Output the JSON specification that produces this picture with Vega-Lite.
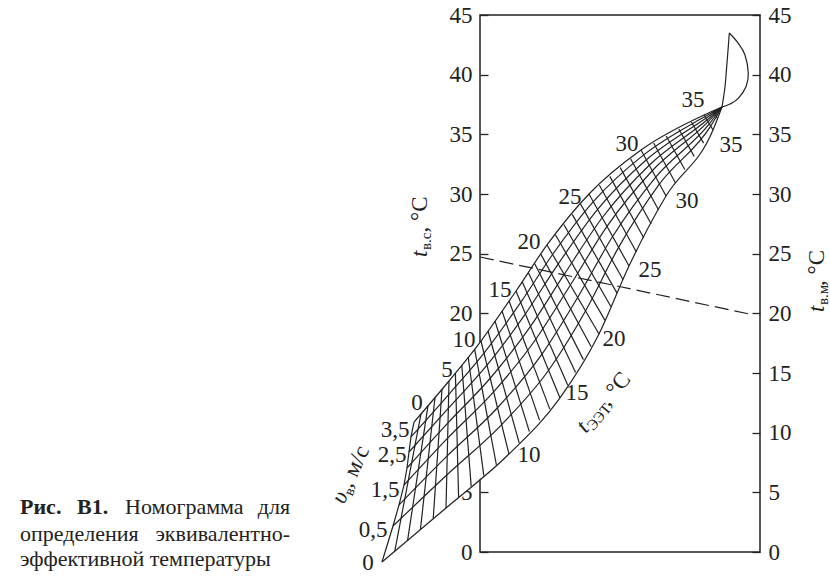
{
"$schema": "https://vega.github.io/schema/vega-lite/v6.json",
"width": 280, "height": 537,
"autosize": {"type": "none"},
"padding": {"left": 480, "top": 15, "right": 70, "bottom": 24},
"background": "white",
"config": {"view": {"stroke": "#222", "strokeWidth": 1.5}, "font": "Liberation Serif"},
"datasets": {
"band": [
{"o":1,"x":-66,"y":10.89},{"o":2,"x":-31,"y":14.33},{"o":3,"x":1,"y":17.68},{"o":4,"x":36,"y":21.87},{"o":5,"x":67,"y":25.73},{"o":6,"x":109,"y":30.0},{"o":7,"x":161,"y":33.69},{"o":8,"x":224,"y":36.62},{"o":9,"x":242,"y":37.29},
{"o":10,"x":233,"y":35.36},{"o":11,"x":186,"y":29.83},{"o":12,"x":149,"y":23.97},{"o":13,"x":119,"y":18.27},{"o":14,"x":80,"y":12.91},{"o":15,"x":29,"y":8.21},{"o":16,"x":-34,"y":3.69},{"o":17,"x":-98,"y":-0.84},
{"o":18,"x":-87,"y":2.18},{"o":19,"x":-81,"y":3.94},{"o":20,"x":-76,"y":5.61},{"o":21,"x":-73,"y":7.04},{"o":22,"x":-71,"y":8.38},{"o":23,"x":-69,"y":9.64}
],
"et": [
{"t":0,"o":0,"x":-66,"y":10.89},{"t":0,"o":1,"x":-69,"y":9.64},{"t":0,"o":2,"x":-71,"y":8.38},{"t":0,"o":3,"x":-73,"y":7.04},{"t":0,"o":4,"x":-76,"y":5.61},{"t":0,"o":5,"x":-81,"y":3.94},{"t":0,"o":6,"x":-87,"y":2.18},{"t":0,"o":7,"x":-98,"y":-0.84},
{"t":1,"o":0,"x":-59,"y":11.58},{"t":1,"o":1,"x":-85.2,"y":0.07},
{"t":2,"o":0,"x":-52,"y":12.27},{"t":2,"o":1,"x":-72.4,"y":0.97},
{"t":3,"o":0,"x":-45,"y":12.96},{"t":3,"o":1,"x":-59.6,"y":1.88},
{"t":4,"o":0,"x":-38,"y":13.64},{"t":4,"o":1,"x":-46.8,"y":2.78},
{"t":5,"o":0,"x":-31,"y":14.33},{"t":5,"o":1,"x":-34,"y":3.69},
{"t":6,"o":0,"x":-24.6,"y":15.0},{"t":6,"o":1,"x":-21.4,"y":4.59},
{"t":7,"o":0,"x":-18.2,"y":15.67},{"t":7,"o":1,"x":-8.8,"y":5.5},
{"t":8,"o":0,"x":-11.8,"y":16.34},{"t":8,"o":1,"x":3.8,"y":6.4},
{"t":9,"o":0,"x":-5.4,"y":17.01},{"t":9,"o":1,"x":16.4,"y":7.31},
{"t":10,"o":0,"x":1,"y":17.68},{"t":10,"o":1,"x":29,"y":8.21},
{"t":11,"o":0,"x":8,"y":18.52},{"t":11,"o":1,"x":39.2,"y":9.15},
{"t":12,"o":0,"x":15,"y":19.36},{"t":12,"o":1,"x":49.4,"y":10.09},
{"t":13,"o":0,"x":22,"y":20.2},{"t":13,"o":1,"x":59.6,"y":11.03},
{"t":14,"o":0,"x":29,"y":21.03},{"t":14,"o":1,"x":69.8,"y":11.97},
{"t":15,"o":0,"x":36,"y":21.87},{"t":15,"o":1,"x":80,"y":12.91},
{"t":16,"o":0,"x":42.2,"y":22.64},{"t":16,"o":1,"x":87.8,"y":13.98},
{"t":17,"o":0,"x":48.4,"y":23.41},{"t":17,"o":1,"x":95.6,"y":15.05},
{"t":18,"o":0,"x":54.6,"y":24.18},{"t":18,"o":1,"x":103.4,"y":16.12},
{"t":19,"o":0,"x":60.8,"y":24.96},{"t":19,"o":1,"x":111.2,"y":17.2},
{"t":20,"o":0,"x":67,"y":25.73},{"t":20,"o":1,"x":119,"y":18.27},
{"t":21,"o":0,"x":75.4,"y":26.58},{"t":21,"o":1,"x":125,"y":19.41},
{"t":22,"o":0,"x":83.8,"y":27.44},{"t":22,"o":1,"x":131,"y":20.55},
{"t":23,"o":0,"x":92.2,"y":28.29},{"t":23,"o":1,"x":137,"y":21.69},
{"t":24,"o":0,"x":100.6,"y":29.15},{"t":24,"o":1,"x":143,"y":22.83},
{"t":25,"o":0,"x":109,"y":30.0},{"t":25,"o":1,"x":149,"y":23.97},
{"t":26,"o":0,"x":119.4,"y":30.74},{"t":26,"o":1,"x":156.4,"y":25.14},
{"t":27,"o":0,"x":129.8,"y":31.48},{"t":27,"o":1,"x":163.8,"y":26.31},
{"t":28,"o":0,"x":140.2,"y":32.21},{"t":28,"o":1,"x":171.2,"y":27.49},
{"t":29,"o":0,"x":150.6,"y":32.95},{"t":29,"o":1,"x":178.6,"y":28.66},
{"t":30,"o":0,"x":161,"y":33.69},{"t":30,"o":1,"x":186,"y":29.83},
{"t":31,"o":0,"x":173.6,"y":34.27},{"t":31,"o":1,"x":195.4,"y":30.94},
{"t":32,"o":0,"x":186.2,"y":34.86},{"t":32,"o":1,"x":204.8,"y":32.05},
{"t":33,"o":0,"x":198.8,"y":35.45},{"t":33,"o":1,"x":214.2,"y":33.15},
{"t":34,"o":0,"x":211.4,"y":36.03},{"t":34,"o":1,"x":223.6,"y":34.26},
{"t":35,"o":0,"x":224,"y":36.62},{"t":35,"o":1,"x":233,"y":35.36},
{"t":36,"o":0,"x":233,"y":36.96},{"t":36,"o":1,"x":237.5,"y":36.33}
],
"vel": [
{"v":3.5,"x":-66,"y":10.89},{"v":3.5,"x":-31,"y":14.33},{"v":3.5,"x":1,"y":17.68},{"v":3.5,"x":36,"y":21.87},{"v":3.5,"x":67,"y":25.73},{"v":3.5,"x":109,"y":30.0},{"v":3.5,"x":161,"y":33.69},{"v":3.5,"x":224,"y":36.62},{"v":3.5,"x":242,"y":37.29},
{"v":3.0,"x":-69,"y":9.64},{"v":3.0,"x":-31.3,"y":13.19},{"v":3.0,"x":4.0,"y":16.67},{"v":3.0,"x":40.7,"y":20.92},{"v":3.0,"x":72.6,"y":24.93},{"v":3.0,"x":113.3,"y":29.36},{"v":3.0,"x":163.7,"y":33.28},{"v":3.0,"x":225,"y":36.49},{"v":3.0,"x":242,"y":37.29},
{"v":2.5,"x":-71,"y":8.38},{"v":2.5,"x":-31.6,"y":12.05},{"v":2.5,"x":7.0,"y":15.65},{"v":2.5,"x":45.4,"y":19.95},{"v":2.5,"x":78.1,"y":24.13},{"v":2.5,"x":117.6,"y":28.71},{"v":2.5,"x":166.4,"y":32.87},{"v":2.5,"x":225.9,"y":36.35},{"v":2.5,"x":242,"y":37.29},
{"v":2.0,"x":-73,"y":7.04},{"v":2.0,"x":-32.0,"y":10.82},{"v":2.0,"x":10.2,"y":14.56},{"v":2.0,"x":50.5,"y":18.91},{"v":2.0,"x":84.2,"y":23.26},{"v":2.0,"x":122.2,"y":28.01},{"v":2.0,"x":169.25,"y":32.41},{"v":2.0,"x":227,"y":36.2},{"v":2.0,"x":242,"y":37.29},
{"v":1.5,"x":-76,"y":5.61},{"v":1.5,"x":-32.35,"y":9.54},{"v":1.5,"x":13.6,"y":13.42},{"v":1.5,"x":55.8,"y":17.83},{"v":1.5,"x":90.4,"y":22.37},{"v":1.5,"x":127.0,"y":27.29},{"v":1.5,"x":172.25,"y":31.95},{"v":1.5,"x":228,"y":36.05},{"v":1.5,"x":242,"y":37.29},
{"v":1.0,"x":-81,"y":3.94},{"v":1.0,"x":-32.8,"y":8.05},{"v":1.0,"x":17.5,"y":12.09},{"v":1.0,"x":62.0,"y":16.58},{"v":1.0,"x":97.7,"y":21.33},{"v":1.0,"x":132.6,"y":26.44},{"v":1.0,"x":175.75,"y":31.42},{"v":1.0,"x":229.3,"y":35.87},{"v":1.0,"x":242,"y":37.29},
{"v":0.5,"x":-87,"y":2.18},{"v":0.5,"x":-33.2,"y":6.45},{"v":0.5,"x":21.7,"y":10.68},{"v":0.5,"x":68.6,"y":15.23},{"v":0.5,"x":105.5,"y":20.2},{"v":0.5,"x":138.6,"y":25.53},{"v":0.5,"x":179.5,"y":30.84},{"v":0.5,"x":230.7,"y":35.69},{"v":0.5,"x":242,"y":37.29},
{"v":0,"x":-98,"y":-0.84},{"v":0,"x":-34,"y":3.69},{"v":0,"x":29,"y":8.21},{"v":0,"x":80,"y":12.91},{"v":0,"x":119,"y":18.27},{"v":0,"x":149,"y":23.97},{"v":0,"x":186,"y":29.83},{"v":0,"x":233,"y":35.36},{"v":0,"x":242,"y":37.29}
],
"loop": [
{"s":"up","o":1,"x":242,"y":37.29},{"s":"up","o":2,"x":245,"y":38.99},{"s":"up","o":3,"x":246.7,"y":40.67},{"s":"up","o":4,"x":248.3,"y":42.35},{"s":"up","o":5,"x":249.3,"y":43.49},
{"s":"arc","o":1,"x":249.3,"y":43.49},{"s":"arc","o":2,"x":258.3,"y":42.63},{"s":"arc","o":3,"x":265,"y":41.65},{"s":"arc","o":4,"x":268.3,"y":40.12},{"s":"arc","o":5,"x":266,"y":38.99},{"s":"arc","o":6,"x":258.3,"y":38.02},{"s":"arc","o":7,"x":250,"y":37.54},{"s":"arc","o":8,"x":242,"y":37.29}
],
"dash": [{"x":0,"y":24.72},{"x":274,"y":19.86}],
"nums": [
{"s":"0","x":-63,"y":12.49},{"s":"5","x":-33,"y":15.25},{"s":"10","x":-16,"y":17.77},{"s":"15","x":20,"y":21.96},{"s":"20","x":49,"y":25.98},{"s":"25","x":90,"y":29.75},{"s":"30","x":147,"y":34.19},{"s":"35","x":213,"y":37.88},
{"s":"10","x":49,"y":8.13},{"s":"15","x":97,"y":13.32},{"s":"20","x":134,"y":17.85},{"s":"25","x":170,"y":23.63},{"s":"30","x":207,"y":29.41},{"s":"35","x":251,"y":34.11},
{"s":"3,5","x":-85,"y":10.22},{"s":"2,5","x":-88,"y":8.13},{"s":"1,5","x":-95,"y":5.2},{"s":"0,5","x":-107,"y":1.84},{"s":"0","x":-112,"y":-0.9}
],
"txt": [
{"k":"bold","s":"Рис.","x":-460,"y":3.18,"a":0},
{"k":"bold","s":"В1.","x":-403,"y":3.18,"a":0},
{"k":"reg","s":"Номограмма","x":-355,"y":3.18,"a":0},
{"k":"regR","s":"для","x":-190,"y":3.18,"a":0},
{"k":"reg","s":"определения","x":-460,"y":0.96,"a":0},
{"k":"regR","s":"эквивалентно-","x":-190,"y":0.96,"a":0},
{"k":"reg","s":"эффективной температуры","x":-460,"y":-1.17,"a":0},
{"k":"ital","s":"t","x":-53,"y":24.72,"a":270},
{"k":"sub","s":"в.с","x":-49,"y":25.31,"a":270},
{"k":"reg2","s":", °С","x":-53,"y":26.77,"a":270},
{"k":"ital","s":"t","x":344,"y":20.11,"a":270},
{"k":"sub","s":"в.м","x":348,"y":20.7,"a":270},
{"k":"reg2","s":", °С","x":344,"y":22.29,"a":270},
{"k":"ital","s":"t","x":106,"y":9.89,"a":310},
{"k":"sub","s":"ЭЭТ","x":113.5,"y":10.12,"a":310},
{"k":"reg2","s":", °С","x":128.5,"y":12.13,"a":310},
{"k":"ital","s":"υ","x":-136,"y":3.94,"a":295},
{"k":"sub","s":"в","x":-127.7,"y":4.63,"a":295},
{"k":"reg2","s":", м/с","x":-128.4,"y":5.3,"a":295}
]
},
"resolve": {"axis": {"y": "independent"}},
"layer": [
{
"data": {"name": "band"},
"mark": {"type": "line", "fill": "white", "strokeWidth": 0},
"encoding": {
"x": {"field": "x", "type": "quantitative", "scale": {"domain": [0, 280], "nice": false, "zero": false}, "axis": null},
"y": {"field": "y", "type": "quantitative", "scale": {"domain": [0, 45], "nice": false, "zero": false},
"axis": {"orient": "left", "values": [0, 5, 20, 25, 30, 35, 40, 45], "domain": false, "grid": false, "tickSize": -8, "tickColor": "#222", "tickWidth": 1.3, "labelFont": "Liberation Serif", "labelFontSize": 23, "labelColor": "#222", "labelPadding": 16, "title": null}},
"order": {"field": "o", "type": "quantitative"}
}
},
{
"data": {"name": "et"},
"mark": {"type": "line", "stroke": "#222", "strokeWidth": 1.2},
"encoding": {
"x": {"field": "x", "type": "quantitative", "scale": {"domain": [0, 280], "nice": false, "zero": false}, "axis": null},
"y": {"field": "y", "type": "quantitative", "scale": {"domain": [0, 45], "nice": false, "zero": false},
"axis": {"orient": "right", "values": [0, 5, 10, 15, 20, 25, 30, 35, 40, 45], "domain": false, "grid": false, "tickSize": -8, "tickColor": "#222", "tickWidth": 1.3, "labelFont": "Liberation Serif", "labelFontSize": 23, "labelColor": "#222", "labelPadding": 16, "title": null}},
"detail": {"field": "t", "type": "nominal"},
"order": {"field": "o", "type": "quantitative"}
}
},
{
"data": {"name": "vel"},
"mark": {"type": "line", "stroke": "#222", "strokeWidth": 1.2, "interpolate": "monotone"},
"encoding": {
"x": {"field": "x", "type": "quantitative", "scale": {"domain": [0, 280], "nice": false, "zero": false}, "axis": null},
"y": {"field": "y", "type": "quantitative", "scale": {"domain": [0, 45], "nice": false, "zero": false}, "axis": null},
"detail": {"field": "v", "type": "nominal"}
}
},
{
"data": {"name": "loop"},
"mark": {"type": "line", "stroke": "#222", "strokeWidth": 1.2, "interpolate": "cardinal"},
"encoding": {
"x": {"field": "x", "type": "quantitative", "scale": {"domain": [0, 280], "nice": false, "zero": false}, "axis": null},
"y": {"field": "y", "type": "quantitative", "scale": {"domain": [0, 45], "nice": false, "zero": false}, "axis": null},
"detail": {"field": "s", "type": "nominal"},
"order": {"field": "o", "type": "quantitative"}
}
},
{
"data": {"name": "dash"},
"mark": {"type": "line", "stroke": "#222", "strokeWidth": 1.2, "strokeDash": [14, 6]},
"encoding": {
"x": {"field": "x", "type": "quantitative", "scale": {"domain": [0, 280], "nice": false, "zero": false}, "axis": null},
"y": {"field": "y", "type": "quantitative", "scale": {"domain": [0, 45], "nice": false, "zero": false}, "axis": null}
}
},
{
"data": {"name": "nums"},
"mark": {"type": "text", "font": "Liberation Serif", "fontSize": 23, "align": "center", "baseline": "middle", "color": "#222"},
"encoding": {
"x": {"field": "x", "type": "quantitative", "scale": {"domain": [0, 280], "nice": false, "zero": false}, "axis": null},
"y": {"field": "y", "type": "quantitative", "scale": {"domain": [0, 45], "nice": false, "zero": false}, "axis": null},
"text": {"field": "s"}
}
},
{
"data": {"name": "txt"},
"transform": [{"filter": "datum.k === 'reg'"}],
"mark": {"type": "text", "font": "Liberation Serif", "fontSize": 22, "align": "left", "baseline": "alphabetic", "color": "#222"},
"encoding": {
"x": {"field": "x", "type": "quantitative", "scale": {"domain": [0, 280], "nice": false, "zero": false}, "axis": null},
"y": {"field": "y", "type": "quantitative", "scale": {"domain": [0, 45], "nice": false, "zero": false}, "axis": null},
"text": {"field": "s"},
"angle": {"field": "a", "type": "quantitative", "scale": null}
}
},
{
"data": {"name": "txt"},
"transform": [{"filter": "datum.k === 'regR'"}],
"mark": {"type": "text", "font": "Liberation Serif", "fontSize": 22, "align": "right", "baseline": "alphabetic", "color": "#222"},
"encoding": {
"x": {"field": "x", "type": "quantitative", "scale": {"domain": [0, 280], "nice": false, "zero": false}, "axis": null},
"y": {"field": "y", "type": "quantitative", "scale": {"domain": [0, 45], "nice": false, "zero": false}, "axis": null},
"text": {"field": "s"},
"angle": {"field": "a", "type": "quantitative", "scale": null}
}
},
{
"data": {"name": "txt"},
"transform": [{"filter": "datum.k === 'reg2'"}],
"mark": {"type": "text", "font": "Liberation Serif", "fontSize": 23, "align": "left", "baseline": "alphabetic", "color": "#222"},
"encoding": {
"x": {"field": "x", "type": "quantitative", "scale": {"domain": [0, 280], "nice": false, "zero": false}, "axis": null},
"y": {"field": "y", "type": "quantitative", "scale": {"domain": [0, 45], "nice": false, "zero": false}, "axis": null},
"text": {"field": "s"},
"angle": {"field": "a", "type": "quantitative", "scale": null}
}
},
{
"data": {"name": "txt"},
"transform": [{"filter": "datum.k === 'bold'"}],
"mark": {"type": "text", "font": "Liberation Serif", "fontSize": 22, "fontWeight": "bold", "align": "left", "baseline": "alphabetic", "color": "#222"},
"encoding": {
"x": {"field": "x", "type": "quantitative", "scale": {"domain": [0, 280], "nice": false, "zero": false}, "axis": null},
"y": {"field": "y", "type": "quantitative", "scale": {"domain": [0, 45], "nice": false, "zero": false}, "axis": null},
"text": {"field": "s"},
"angle": {"field": "a", "type": "quantitative", "scale": null}
}
},
{
"data": {"name": "txt"},
"transform": [{"filter": "datum.k === 'ital'"}],
"mark": {"type": "text", "font": "Liberation Serif", "fontSize": 23, "fontStyle": "italic", "align": "left", "baseline": "alphabetic", "color": "#222"},
"encoding": {
"x": {"field": "x", "type": "quantitative", "scale": {"domain": [0, 280], "nice": false, "zero": false}, "axis": null},
"y": {"field": "y", "type": "quantitative", "scale": {"domain": [0, 45], "nice": false, "zero": false}, "axis": null},
"text": {"field": "s"},
"angle": {"field": "a", "type": "quantitative", "scale": null}
}
},
{
"data": {"name": "txt"},
"transform": [{"filter": "datum.k === 'sub'"}],
"mark": {"type": "text", "font": "Liberation Serif", "fontSize": 15, "align": "left", "baseline": "alphabetic", "color": "#222"},
"encoding": {
"x": {"field": "x", "type": "quantitative", "scale": {"domain": [0, 280], "nice": false, "zero": false}, "axis": null},
"y": {"field": "y", "type": "quantitative", "scale": {"domain": [0, 45], "nice": false, "zero": false}, "axis": null},
"text": {"field": "s"},
"angle": {"field": "a", "type": "quantitative", "scale": null}
}
}
]
}
